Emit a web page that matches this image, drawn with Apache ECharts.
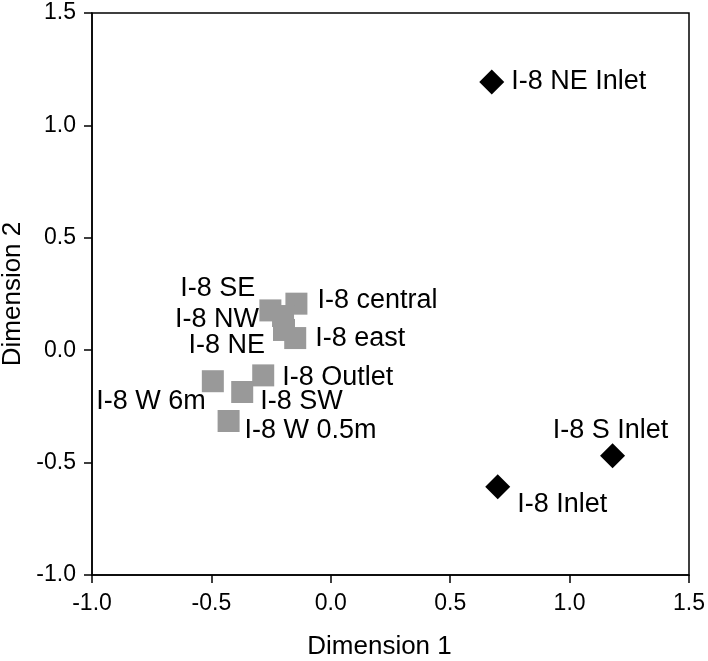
<!DOCTYPE html>
<html>
<head>
<meta charset="utf-8">
<script src="https://cdn.jsdelivr.net/npm/echarts@6/dist/echarts.min.js"></script>
<style>
  html, body { margin: 0; padding: 0; background: #fff; }
  #chart { width: 708px; height: 661px; }
</style>
</head>
<body>
<div id="chart"></div>
<script>
// 方形点（灰色）
const siteNames = ['I-8 central', 'I-8 SE', 'I-8 NW', 'I-8 NE', 'I-8 east', 'I-8 Outlet', 'I-8 W 6m', 'I-8 SW', 'I-8 W 0.5m'];
const siteDim1 = [-0.144, -0.253, -0.200, -0.196, -0.149, -0.283, -0.494, -0.371, -0.428];
const siteDim2 = [0.207, 0.177, 0.152, 0.090, 0.054, -0.112, -0.138, -0.186, -0.315];

// 菱形点（黑色）
const inletNames = ['I-8 NE Inlet', 'I-8 S Inlet', 'I-8 Inlet'];
const inletDim1 = [0.674, 1.180, 0.699];
const inletDim2 = [1.193, -0.469, -0.607];

const tickLabels = ['-1.0', '-0.5', '0.0', '0.5', '1.0', '1.5'];

// 标签位置
const labelPos = {
  'I-8 central': { position: 'right', distance: 10, offset: [0, -3] },
  'I-8 SE': { position: 'left', distance: 4, offset: [0, -22] },
  'I-8 NW': { position: 'left', distance: 13, offset: [0, 4] },
  'I-8 NE': { position: 'left', distance: 8, offset: [0, 16] },
  'I-8 east': { position: 'right', distance: 9, offset: [0, 0] },
  'I-8 Outlet': { position: 'right', distance: 8, offset: [0, 2] },
  'I-8 W 6m': { position: 'left', distance: -4, offset: [0, 20] },
  'I-8 SW': { position: 'right', distance: 7, offset: [0, 10] },
  'I-8 W 0.5m': { position: 'right', distance: 5, offset: [0, 10] },
  'I-8 NE Inlet': { position: 'right', distance: 7, offset: [0, 0] },
  'I-8 S Inlet': { position: 'top', distance: 0, offset: [-2, 1] },
  'I-8 Inlet': { position: 'right', distance: 7, offset: [0, 18] },
};

const font = 'Liberation Sans, Arial, sans-serif';

const toPoints = (names, xs, ys) => names.map((name, i) => ({
  name,
  value: [xs[i], ys[i]],
  label: { show: true, ...labelPos[name] },
}));

const labelStyle = {
  show: true,
  formatter: (p) => p.name,
  color: '#000',
  fontSize: 27,
  fontFamily: font,
};

const axisBase = {
  type: 'value',
  min: -1,
  max: 1.5,
  interval: 0.5,
  nameLocation: 'middle',
  nameTextStyle: { fontSize: 26, fontFamily: font, color: '#000' },
  axisLine: { show: true, onZero: false, lineStyle: { color: '#000', width: 1.5 } },
  axisTick: { show: true, inside: false, length: 8, lineStyle: { color: '#000', width: 1.5 } },
  axisLabel: {
    fontSize: 23,
    fontFamily: font,
    color: '#000',
    formatter: (v) => tickLabels[Math.round((v + 1) / 0.5)],
  },
  splitLine: { show: false },
};

const chart = echarts.init(document.getElementById('chart'), null, { renderer: 'canvas' });
chart.setOption({
  animation: false,
  grid: {
    left: 92,
    right: 19,
    top: 13,
    bottom: 86,
    containLabel: false,
    outerBoundsMode: 'none',
    show: true,
    borderColor: '#000',
    borderWidth: 1.5,
  },
  xAxis: {
    ...axisBase,
    name: 'Dimension 1',
    nameGap: 59,
    nameTextStyle: { ...axisBase.nameTextStyle, padding: [0, 22, 0, 0] },
    axisLabel: { ...axisBase.axisLabel, margin: 17 },
  },
  yAxis: {
    ...axisBase,
    name: 'Dimension 2',
    nameGap: 64,
    nameRotate: 90,
    axisLabel: { ...axisBase.axisLabel, margin: 16 },
  },
  series: [
    {
      type: 'scatter',
      symbol: 'rect',
      symbolSize: 22,
      itemStyle: { color: '#999999', opacity: 1 },
      label: labelStyle,
      data: toPoints(siteNames, siteDim1, siteDim2),
    },
    {
      type: 'scatter',
      symbol: 'diamond',
      symbolSize: 25,
      itemStyle: { color: '#000', opacity: 1 },
      label: labelStyle,
      data: toPoints(inletNames, inletDim1, inletDim2),
    },
  ],
});
</script>
</body>
</html>
